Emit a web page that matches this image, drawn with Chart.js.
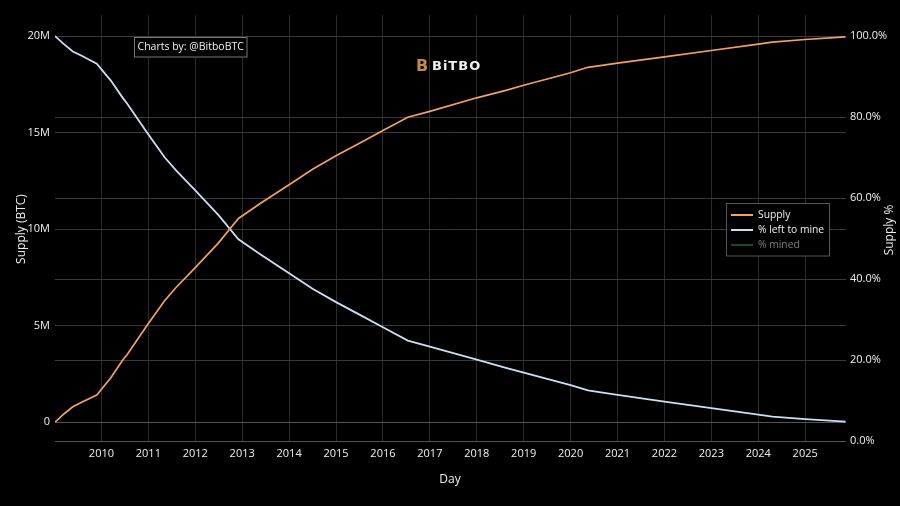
<!DOCTYPE html>
<html>
<head>
<meta charset="utf-8">
<script src="https://cdn.jsdelivr.net/npm/chart.js@4.4.1/dist/chart.umd.min.js"></script>
<style>
  html, body { margin: 0; padding: 0; background: #000; }
  #wrap { width: 900px; height: 506px; }
</style>
</head>
<body>
<div id="wrap"><canvas id="supplyChart"></canvas></div>
<script>
// decimal years
const dates = [2009.01, 2009.2, 2009.39, 2009.6, 2009.9, 2010.2, 2010.45, 2010.55, 2010.97, 2011.35,
    2011.6, 2012.0, 2012.5, 2012.92, 2013.4, 2014.0, 2014.5, 2015.0, 2015.5, 2016.0,
    2016.53, 2017.0, 2018.0, 2018.64, 2019.0, 2020.0, 2020.37, 2021.0, 2022.0, 2023.0,
    2024.0, 2024.3, 2025.0, 2025.86];

// BTC supply (millions)
const supplyM = [0, 0.42, 0.79, 1.05, 1.4, 2.3, 3.2, 3.5, 5.0, 6.3,
    7.0, 8.0, 9.3, 10.55, 11.35, 12.3, 13.1, 13.8, 14.44, 15.1,
    15.79, 16.1, 16.8, 17.2, 17.45, 18.1, 18.38, 18.6, 18.92, 19.25,
    19.58, 19.68, 19.82, 19.96];

// % left to mine
const leftToMine = [100, 98.0, 96.2, 95.0, 93.2, 89.0, 84.8, 83.3, 76.2, 70.0,
    66.7, 61.9, 55.7, 49.8, 46.0, 41.4, 37.6, 34.3, 31.2, 28.1,
    24.8, 23.3, 20.1, 18.0, 16.9, 13.8, 12.5, 11.4, 9.7, 8.1,
    6.5, 6.0, 5.4, 4.8];

// % mined (hidden in the legend, not drawn)
const mined = [];

const yearTicks = [2010, 2011, 2012, 2013, 2014, 2015, 2016, 2017, 2018, 2019, 2020, 2021, 2022, 2023, 2024, 2025];
const supplyTicks = [0, 5e6, 10e6, 15e6, 20e6];
const pctTicks = [0, 20, 40, 60, 80, 100];

const FONT = '"Open Sans", "DejaVu Sans", sans-serif';
const tickFont = { family: FONT, size: 11 };

function points(ys, mult) {
    return dates.map((d, i) => ({ x: d, y: ys[i] * mult }));
}

// legend box, annotation, logo and axis titles
const decorations = {
    id: 'decorations',
    afterDraw(chart) {
        const ctx = chart.ctx;
        ctx.save();

        // "Charts by" annotation
        ctx.fillStyle = '#000';
        ctx.fillRect(134.5, 37.5, 112.5, 19.5);
        ctx.strokeStyle = '#777';
        ctx.lineWidth = 1;
        ctx.strokeRect(134.5, 37.5, 112.5, 19.5);
        ctx.fillStyle = '#f0f0f0';
        ctx.font = '10.5px ' + FONT;
        ctx.textAlign = 'center';
        ctx.textBaseline = 'middle';
        ctx.fillText('Charts by: @BitboBTC', 190.7, 47.5);

        // logo
        ctx.fillStyle = '#c58b3c';
        ctx.font = 'bold 16px "DejaVu Sans", sans-serif';
        ctx.textAlign = 'left';
        ctx.fillText('B', 416, 66.5);
        ctx.fillStyle = '#f2f2f2';
        ctx.font = 'bold 13px "DejaVu Sans", sans-serif';
        ctx.letterSpacing = '1px';
        ctx.fillText('BiTBO', 432, 66.5);
        ctx.letterSpacing = '0px';

        // axis titles
        ctx.fillStyle = '#ececec';
        ctx.font = '12px ' + FONT;
        ctx.textAlign = 'center';
        ctx.fillText('Day', 450, 480);
        ctx.save();
        ctx.translate(22, 229);
        ctx.rotate(-Math.PI / 2);
        ctx.fillText('Supply (BTC)', 0, 0);
        ctx.restore();
        ctx.save();
        ctx.translate(890, 230);
        ctx.rotate(-Math.PI / 2);
        ctx.fillText('Supply %', 0, 0);
        ctx.restore();

        // legend
        ctx.fillStyle = '#000';
        ctx.fillRect(726.5, 203.5, 103, 52.5);
        ctx.strokeStyle = '#555';
        ctx.strokeRect(726.5, 203.5, 103, 52.5);
        ctx.font = '10.3px ' + FONT;
        ctx.textAlign = 'left';
        chart.data.datasets.forEach((ds, i) => {
            const y = 215 + i * 15;
            const hidden = !chart.isDatasetVisible(i);
            ctx.globalAlpha = hidden ? 0.5 : 1;
            ctx.strokeStyle = ds.borderColor;
            ctx.lineWidth = 2;
            ctx.beginPath();
            ctx.moveTo(731, y);
            ctx.lineTo(753, y);
            ctx.stroke();
            ctx.fillStyle = '#f0f0f0';
            ctx.fillText(ds.label, 758, y);
        });
        ctx.restore();
    }
};

new Chart(document.getElementById('supplyChart'), {
    type: 'line',
    data: {
        datasets: [
            {
                label: 'Supply',
                data: points(supplyM, 1e6),
                yAxisID: 'y',
                borderColor: '#f2a25e',
                borderWidth: 1.7,
                pointRadius: 0,
                tension: 0
            },
            {
                label: '% left to mine',
                data: points(leftToMine, 1),
                yAxisID: 'y1',
                borderColor: '#c8e0f5',
                borderWidth: 1.8,
                pointRadius: 0,
                tension: 0
            },
            {
                label: '% mined',
                data: mined,
                yAxisID: 'y1',
                borderColor: '#3f8f3f',
                borderWidth: 1.6,
                pointRadius: 0,
                hidden: true
            }
        ]
    },
    options: {
        responsive: true,
        maintainAspectRatio: false,
        animation: false,
        layout: { padding: { top: 15, left: 0, right: 0, bottom: 0 } },
        plugins: {
            legend: { display: false },
            tooltip: { enabled: false }
        },
        scales: {
            x: {
                type: 'linear',
                min: 2009.01,
                max: 2025.87,
                afterBuildTicks: s => { s.ticks = yearTicks.map(v => ({ value: v })); },
                afterFit: s => { s.height = 65; },
                ticks: {
                    autoSkip: false,
                    maxRotation: 0,
                    padding: 6,
                    color: '#f0f0f0',
                    font: tickFont,
                    callback: v => String(v)
                },
                grid: { color: '#2b2b2b', drawTicks: false },
                border: { display: false }
            },
            y: {
                position: 'left',
                min: -0.98e6,
                max: 21.09e6,
                afterBuildTicks: s => { s.ticks = supplyTicks.map(v => ({ value: v })); },
                afterFit: s => { s.width = 55; },
                ticks: {
                    padding: 5,
                    color: '#f0f0f0',
                    font: tickFont,
                    callback: v => v === 0 ? '0' : (v / 1e6) + 'M'
                },
                grid: {
                    color: c => c.tick && c.tick.value === 0 ? '#555' : '#3a3a3a',
                    drawTicks: false
                },
                border: { display: false }
            },
            y1: {
                position: 'right',
                min: 0,
                max: 105.2,
                afterBuildTicks: s => { s.ticks = pctTicks.map(v => ({ value: v })); },
                afterFit: s => { s.width = 54; },
                ticks: {
                    padding: 4,
                    color: '#f0f0f0',
                    font: tickFont,
                    callback: v => v.toFixed(1) + '%'
                },
                grid: {
                    color: c => c.tick && c.tick.value === 0 ? '#555' : '#3a3a3a',
                    drawTicks: false
                },
                border: { display: false }
            }
        }
    },
    plugins: [decorations]
});
</script>
</body>
</html>
